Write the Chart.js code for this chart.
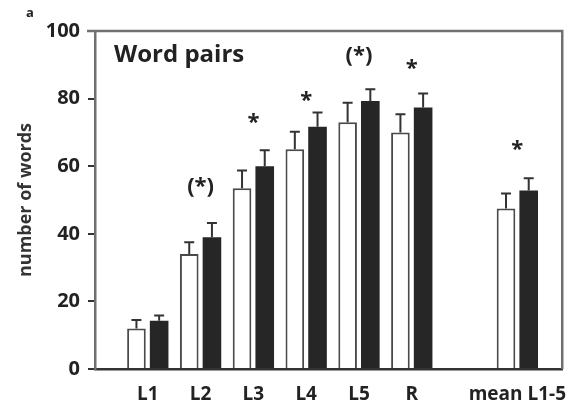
<!DOCTYPE html>
<html>
<head>
<meta charset="utf-8">
<script src="https://cdn.jsdelivr.net/npm/chart.js@4"></script>
<style>
  body { margin: 0; background: #fff; }
  #wrap { width: 573px; height: 403px; position: relative; }
</style>
</head>
<body>
<div id="wrap"><canvas id="myChart"></canvas></div>
<script>
const categories = ["L1", "L2", "L3", "L4", "L5", "R", "mean L1-5"];
const xPos = [1, 2, 3, 4, 5, 6, 8];
const whiteVals = [12, 34, 53.5, 65, 73, 70, 47.5];
const whiteErr = [2.5, 3.5, 5.2, 5.2, 5.8, 5.4, 4.4];
const blackVals = [14.3, 39, 60, 71.7, 79.3, 77.4, 52.8];
const blackErr = [1.5, 4.2, 4.7, 4.2, 3.5, 4.1, 3.6];
const marks = ["", "(*)", "*", "*", "(*)", "*", "*"];
const markLevel = [null, 54, 72.8, 79.3, 92.8, 88.9, 64.8];
const yTicks = [0, 20, 40, 60, 80, 100];

const FONT = "'Open Sans', 'Liberation Sans', sans-serif";

const errorBars = {
  id: "errorBars",
  afterDatasetsDraw(chart) {
    const ctx = chart.ctx;
    const y = chart.scales.y;
    const errs = [whiteErr, blackErr];
    ctx.save();
    ctx.strokeStyle = "#333";
    ctx.lineWidth = 2;
    chart.data.datasets.forEach((ds, di) => {
      chart.getDatasetMeta(di).data.forEach((bar, i) => {
        const top = y.getPixelForValue(ds.data[i].y);
        const cap = y.getPixelForValue(ds.data[i].y + errs[di][i]);
        ctx.beginPath();
        ctx.moveTo(bar.x, top);
        ctx.lineTo(bar.x, cap);
        ctx.moveTo(bar.x - 5, cap);
        ctx.lineTo(bar.x + 5, cap);
        ctx.stroke();
      });
    });
    ctx.restore();
  }
};

const extras = {
  id: "extras",
  afterDraw(chart) {
    const ctx = chart.ctx;
    const a = chart.chartArea;
    const x = chart.scales.x;
    const y = chart.scales.y;
    ctx.save();
    // frame top and right
    ctx.strokeStyle = "#707070";
    ctx.lineWidth = 2.5;
    ctx.beginPath();
    ctx.moveTo(a.left - 8, a.top);
    ctx.lineTo(a.right, a.top);
    ctx.lineTo(a.right, a.bottom);
    ctx.stroke();
    // significance marks
    ctx.fillStyle = "#222";
    ctx.textAlign = "center";
    ctx.textBaseline = "middle";
    ctx.font = "bold 22px " + FONT;
    marks.forEach((m, i) => {
      if (!m) return;
      ctx.fillText(m, x.getPixelForValue(xPos[i]), y.getPixelForValue(markLevel[i]));
    });
    // title inside
    ctx.textAlign = "left";
    ctx.font = "bold 24px " + FONT;
    ctx.fillText("Word pairs", 114, 55);
    // panel letter
    ctx.font = "bold 13px " + FONT;
    ctx.fillText("a", 26, 13);
    ctx.restore();
  }
};

new Chart(document.getElementById("myChart"), {
  type: "bar",
  data: {
    datasets: [
      {
        label: "white",
        data: xPos.map((p, i) => ({ x: p, y: whiteVals[i] })),
        backgroundColor: "#ffffff",
        borderColor: "#4a4a4a",
        borderWidth: 2,
        borderSkipped: "bottom"
      },
      {
        label: "black",
        data: xPos.map((p, i) => ({ x: p, y: blackVals[i] })),
        backgroundColor: "#262626",
        borderColor: "#262626",
        borderWidth: 0
      }
    ]
  },
  options: {
    responsive: true,
    maintainAspectRatio: false,
    animation: false,
    categoryPercentage: 0.86,
    barPercentage: 0.82,
    layout: { padding: { top: 31, right: 10, left: 0, bottom: 0 } },
    plugins: {
      legend: { display: false },
      tooltip: { enabled: false }
    },
    scales: {
      x: {
        type: "linear",
        min: 0,
        max: 8.85,
        offset: false,
        afterBuildTicks: (scale) => {
          scale.ticks = xPos.map((v) => ({ value: v }));
        },
        afterFit: (scale) => { scale.height = 34; },
        grid: { display: false, offset: false },
        border: { display: true, color: "#333", width: 2.5 },
        ticks: {
          autoSkip: false,
          maxRotation: 0,
          padding: 6,
          color: "#222",
          font: { family: FONT, size: 19, weight: "bold" },
          callback: (v) => categories[xPos.indexOf(v)]
        }
      },
      y: {
        min: 0,
        max: 100,
        afterBuildTicks: (scale) => {
          scale.ticks = yTicks.map((v) => ({ value: v }));
        },
        afterFit: (scale) => { scale.width = 95; },
        grid: {
          drawOnChartArea: false,
          drawTicks: true,
          tickLength: 7,
          color: "#333",
          lineWidth: 2
        },
        border: { display: true, color: "#707070", width: 2.5 },
        ticks: {
          padding: 8,
          color: "#222",
          font: { family: FONT, size: 20, weight: "bold" }
        },
        title: {
          display: true,
          text: "number of words",
          color: "#333",
          padding: { top: 15, bottom: 0 },
          font: { family: FONT, size: 18, weight: "bold" }
        }
      }
    }
  },
  plugins: [errorBars, extras]
});
</script>
</body>
</html>
